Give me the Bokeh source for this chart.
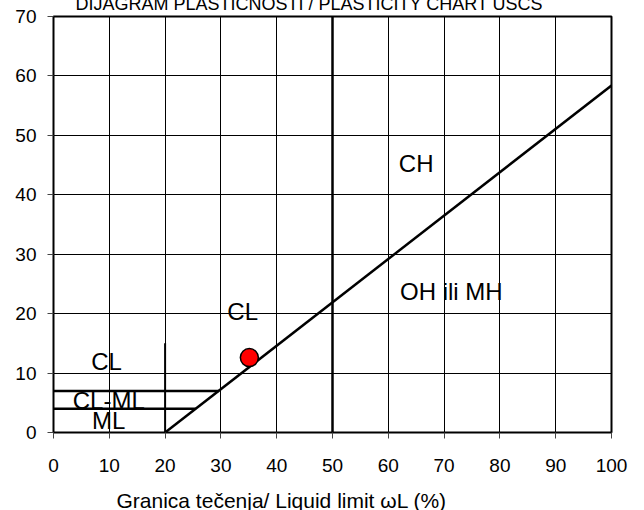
from bokeh.plotting import figure
from bokeh.models import Range1d, FixedTicker, Title, ColumnDataSource
from bokeh.core.properties import value
from bokeh.embed import file_html
from bokeh.resources import INLINE

FONT = "Liberation Sans"

# ---- data ----
ll_ticks = [0, 10, 20, 30, 40, 50, 60, 70, 80, 90, 100]
pi_ticks = [0, 10, 20, 30, 40, 50, 60, 70]

a_line_ll = [20, 100]
a_line_pi = [0, 58.4]

u_split_ll = [50, 50]
u_split_pi = [0, 70]

ll20_ll = [20, 20]
ll20_pi = [0, 15]

clml_top_ll = [0, 29.6]
clml_top_pi = [7, 7]
clml_bot_ll = [0, 25.5]
clml_bot_pi = [4, 4]

sample_ll = [35.1]
sample_pi = [12.6]

zone_names = ["CH", "OH ili MH", "CL", "CL", "CL-ML", "ML"]
zone_ll = [65.0, 71.3, 33.9, 9.5, 9.9, 9.9]
zone_pi = [45.3, 23.7, 20.3, 12.0, 5.4, 2.0]

title_text = "DIJAGRAM PLASTIČNOSTI / PLASTICITY CHART USCS"
xlabel_text = "Granica tečenja/ Liquid limit ωL (%)"

SHIFT = 14   # canvas pulled up so the title is cut off like in the reference
EXTRA = 10   # extra room below for the caption, hidden by a negative bottom margin

# ---- figure ----
p = figure(width=644, height=510 + SHIFT + EXTRA, output_backend="svg", toolbar_location=None,
           x_range=Range1d(0, 100), y_range=Range1d(0, 70),
           min_border_left=53, min_border_right=33, min_border_top=16 + SHIFT,
           min_border_bottom=78 + EXTRA,
           styles={"margin-top": f"-{SHIFT}px", "margin-bottom": f"-{EXTRA}px"})
p.background_fill_color = "white"
p.border_fill_color = "white"
p.outline_line_color = "black"
p.outline_line_width = 2

p.title.text = title_text
p.title.align = "left"
p.title.offset = 22
p.title.standoff = 6
p.title.text_font = FONT
p.title.text_font_size = "18px"
p.title.text_font_style = "normal"
p.title.text_color = "black"

for ax in (p.xaxis[0], p.yaxis[0]):
    ax.axis_line_color = None
    ax.major_tick_line_color = "#444444"
    ax.major_tick_out = 6
    ax.major_tick_in = 0
    ax.minor_tick_line_color = None
    ax.major_label_text_font = FONT
    ax.major_label_text_font_size = "19px"
    ax.major_label_text_color = "black"

p.xaxis.ticker = FixedTicker(ticks=ll_ticks)
p.yaxis.ticker = FixedTicker(ticks=pi_ticks)
p.xaxis.major_label_standoff = 20
p.yaxis.major_label_standoff = 11
# invisible spacer label that pushes the caption further down
p.xaxis.axis_label = " "
p.xaxis.axis_label_text_font_size = "1px"
p.xaxis.axis_label_standoff = 8

p.xgrid.ticker = FixedTicker(ticks=ll_ticks)
p.ygrid.ticker = FixedTicker(ticks=pi_ticks)
for g in (p.xgrid[0], p.ygrid[0]):
    g.grid_line_color = "black"
    g.grid_line_alpha = 1.0
    g.grid_line_width = 1

# x axis caption below the tick labels
p.add_layout(Title(text=xlabel_text, align="left", offset=63, standoff=0,
                   text_font=FONT, text_font_size="21px", text_font_style="normal",
                   text_color="black"), "below")

# structural lines
p.line(u_split_ll, u_split_pi, line_color="black", line_width=2.5)
p.line(a_line_ll, a_line_pi, line_color="black", line_width=2.5)
p.line(ll20_ll, ll20_pi, line_color="black", line_width=2)
p.line(clml_top_ll, clml_top_pi, line_color="black", line_width=2.5)
p.line(clml_bot_ll, clml_bot_pi, line_color="black", line_width=2.5)

# zone labels
zsrc = ColumnDataSource(dict(x=zone_ll, y=zone_pi, t=zone_names))
p.text(x="x", y="y", text="t", source=zsrc, text_font=value(FONT),
       text_font_size="24px", text_align="center", text_baseline="middle",
       text_color="black")

# sample point
p.scatter(sample_ll, sample_pi, size=18, fill_color="red", line_color="black", line_width=1.5)

open("out.html", "w").write(file_html(p, INLINE))
